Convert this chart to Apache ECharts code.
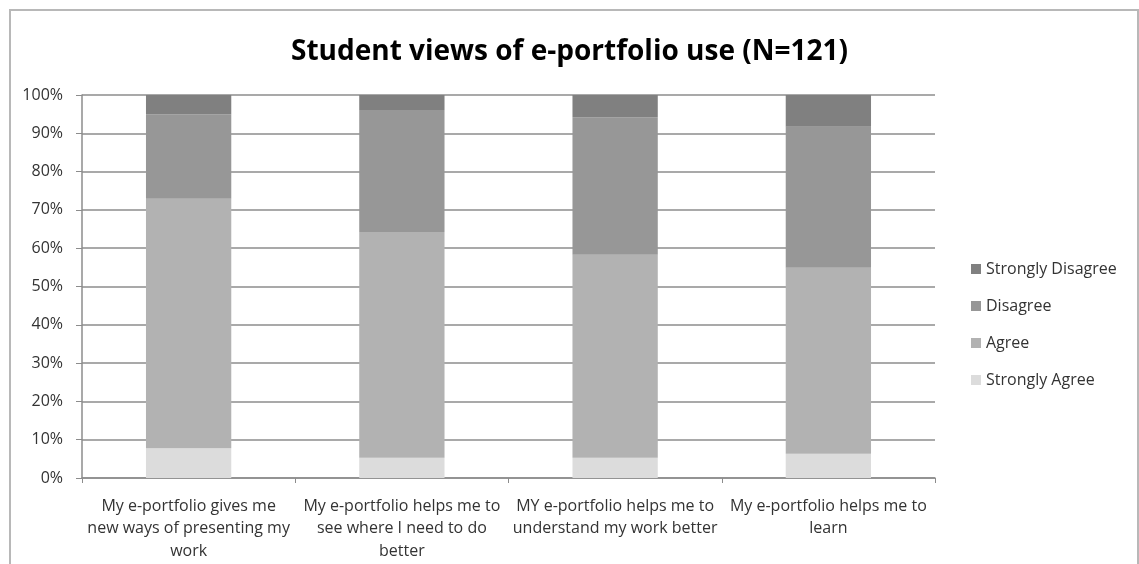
<!DOCTYPE html>
<html>
<head>
<meta charset="utf-8">
<script src="https://cdn.jsdelivr.net/npm/echarts@6/dist/echarts.min.js"></script>
<style>
  html, body { margin: 0; padding: 0; background: #fff; }
  #main { width: 1139px; height: 564px; }
</style>
</head>
<body>
<div id="main"></div>
<script>
// statements on the x axis
var categories = [
    'My e-portfolio gives me\nnew ways of presenting my\nwork',
    'My e-portfolio helps me to\nsee where I need to do\nbetter',
    'MY e-portfolio helps me to\nunderstand my work better',
    'My e-portfolio helps me to\nlearn'
];
// percentages (each bar adds up to 100)
var stronglyAgree = [7.8, 5.3, 5.3, 6.3];
var agree = [65.1, 58.9, 53.0, 48.6];
var disagree = [22.1, 31.9, 35.9, 36.8];
var stronglyDisagree = [5.0, 3.9, 5.8, 8.3];

var myChart = echarts.init(document.getElementById('main'));

var font = '"Open Sans", sans-serif';

function bar(name, data, color) {
    return {
        name: name,
        type: 'bar',
        stack: 'total',
        barWidth: '40%',
        data: data,
        itemStyle: { color: color },
        emphasis: { disabled: true }
    };
}

var option = {
    animation: false,
    title: {
        text: 'Student views of e-portfolio use (N=121)',
        left: 'center',
        top: 33,
        textStyle: { fontFamily: font, fontSize: 28, fontWeight: 'bold', color: '#000' }
    },
    legend: {
        data: ['Strongly Disagree', 'Disagree', 'Agree', 'Strongly Agree'],
        orient: 'vertical',
        left: 966,
        top: 256,
        itemWidth: 10,
        itemHeight: 10,
        itemGap: 21,
        icon: 'rect',
        textStyle: { fontFamily: font, fontSize: 16, color: '#333' }
    },
    graphic: [{
        type: 'rect',
        shape: { x: 10, y: 10, width: 1128, height: 600 },
        style: { fill: 'none', stroke: '#b8b8b8', lineWidth: 2 },
        silent: true
    }],
    grid: { left: 82, right: 204, top: 95, bottom: 86 },
    xAxis: {
        type: 'category',
        data: categories,
        axisLine: { lineStyle: { color: '#8c8c8c', width: 1.5 } },
        axisTick: { show: true, length: 5, lineStyle: { color: '#8c8c8c' } },
        axisLabel: {
            interval: 0,
            margin: 17,
            fontFamily: font,
            fontSize: 16,
            lineHeight: 22.5,
            color: '#333'
        }
    },
    yAxis: {
        type: 'value',
        min: 0,
        max: 100,
        interval: 10,
        axisLine: { show: true, lineStyle: { color: '#8c8c8c', width: 1.5 } },
        axisTick: { show: true, length: 6, lineStyle: { color: '#8c8c8c' } },
        splitLine: { lineStyle: { color: '#8c8c8c', width: 1.5 } },
        axisLabel: {
            formatter: '{value}%',
            margin: 19,
            fontFamily: font,
            fontSize: 16,
            color: '#333'
        }
    },
    series: [
        bar('Strongly Agree', stronglyAgree, '#dcdcdc'),
        bar('Agree', agree, '#b2b2b2'),
        bar('Disagree', disagree, '#979797'),
        bar('Strongly Disagree', stronglyDisagree, '#808080')
    ]
};

myChart.setOption(option);
window.addEventListener('resize', function () {
    myChart.resize();
});
</script>
</body>
</html>
